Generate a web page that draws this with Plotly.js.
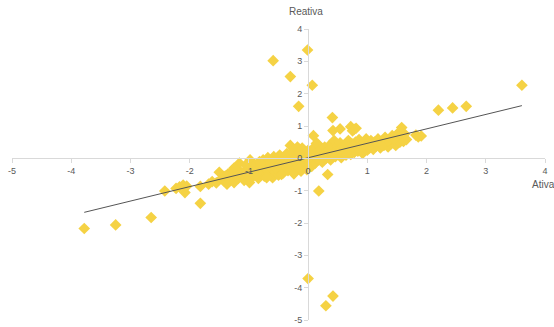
<!DOCTYPE html>
<html>
<head>
<meta charset="utf-8">
<script src="https://cdn.plot.ly/plotly-3.0.1.min.js"></script>
<style>html,body{margin:0;padding:0;background:#fff;}#chart{width:554px;height:327px;}</style>
</head>
<body>
<div id="chart"></div>
<script>
// Scatter points (Ativa, Reativa)
const ativa = [
 -3.78,-3.25,-2.65,-2.42,-2.23,-2.17,-2.11,-2.08,-2.05,-1.82,-1.82,-1.68,-1.62,-1.55,-1.50,-1.46,-1.42,-1.40,-1.37,-1.33,
 -1.30,-1.28,-1.25,-1.22,-1.18,-1.16,-1.14,-1.10,-1.08,-1.05,-1.02,-0.99,-0.98,-0.96,-0.94,-0.92,-0.90,-0.88,-0.86,-0.84,
 -0.82,-0.80,-0.78,-0.76,-0.74,-0.72,-0.70,-0.68,-0.66,-0.64,-0.62,-0.60,-0.59,-0.58,-0.56,-0.54,-0.52,-0.50,-0.48,-0.46,
 -0.44,-0.42,-0.40,-0.38,-0.36,-0.34,-0.32,-0.30,-0.30,-0.28,-0.26,-0.24,-0.22,-0.20,-0.18,-0.16,-0.16,-0.14,-0.12,-0.10,
 -0.08,-0.06,-0.04,-0.02,-0.01,0.00,0.00,0.02,0.04,0.06,0.07,0.08,0.09,0.10,0.12,0.14,0.14,0.16,0.18,0.18,
 0.20,0.22,0.24,0.26,0.28,0.30,0.30,0.32,0.33,0.34,0.36,0.38,0.40,0.41,0.42,0.42,0.42,0.44,0.46,0.48,
 0.50,0.52,0.54,0.54,0.56,0.58,0.60,0.62,0.64,0.66,0.68,0.70,0.72,0.72,0.74,0.75,0.76,0.78,0.78,0.80,
 0.81,0.82,0.84,0.86,0.88,0.90,0.92,0.94,0.96,0.98,1.00,1.02,1.04,1.06,1.08,1.10,1.12,1.15,1.18,1.20,
 1.22,1.25,1.28,1.30,1.32,1.35,1.38,1.40,1.42,1.45,1.48,1.50,1.52,1.55,1.58,1.60,1.61,1.63,1.66,1.82,
 1.86,1.91,2.20,2.44,2.67,3.61,
 -1.35,-1.20,-1.00,-0.85,-0.70,-0.65,-0.55,-0.45,-0.35,-0.25,-0.15,-0.05,0.05,0.15,0.25,0.35,0.45,0.55,0.65,0.75,
 0.85,0.95,1.05,1.15,1.25,1.35,1.45,-0.60,-0.80,-1.05,-1.25
];
const reativa = [
 -2.17,-2.06,-1.83,-1.01,-0.93,-0.88,-0.83,-1.06,-0.86,-0.87,-1.39,-0.80,-0.72,-0.76,-0.43,-0.62,-0.70,-0.55,-0.80,-0.66,
 -0.45,-0.58,-0.75,-0.52,-0.62,-0.15,-0.42,-0.55,-0.68,-0.35,-0.48,-0.75,-0.05,-0.30,-0.58,-0.42,-0.20,-0.50,-0.35,-0.62,
 -0.10,-0.28,-0.45,-0.05,-0.55,-0.22,-0.38,0.02,-0.48,-0.15,-0.30,-0.60,3.02,0.05,-0.42,-0.20,-0.08,-0.52,0.10,-0.32,
 -0.12,-0.45,0.00,-0.25,0.15,-0.38,-0.05,0.40,2.53,-0.18,0.22,-0.48,0.08,-0.30,0.35,-0.10,1.61,0.18,-0.40,0.32,
 0.02,-0.22,0.12,-0.35,3.35,0.25,-3.72,-0.08,0.10,-0.25,2.26,0.30,0.70,0.02,-0.15,0.18,0.46,0.45,-0.05,-1.01,
 0.08,0.28,-0.12,0.15,0.35,0.00,-4.56,0.22,-0.50,0.10,0.40,-0.05,0.30,1.26,0.12,0.86,-4.26,0.55,0.05,0.25,
 0.38,0.15,0.48,0.91,0.02,0.30,0.20,0.42,0.10,0.35,0.55,0.25,0.12,0.98,0.45,0.85,0.30,0.18,0.90,0.50,
 0.93,0.35,0.22,0.58,0.40,0.28,0.15,0.48,0.35,0.60,0.25,0.45,0.32,0.55,0.40,0.28,0.50,0.38,0.60,0.45,
 0.32,0.52,0.40,0.65,0.48,0.35,0.58,0.45,0.70,0.52,0.40,0.62,0.78,0.50,0.95,0.65,0.52,0.75,0.58,0.72,
 0.66,0.69,1.49,1.56,1.61,2.26,
 -0.48,-0.40,-0.60,-0.45,-0.60,-0.25,-0.30,-0.50,-0.15,-0.05,-0.30,-0.10,0.05,0.00,0.05,0.25,0.20,0.30,0.20,0.38,
 0.30,0.42,0.40,0.48,0.42,0.55,0.60,-0.10,-0.15,-0.20,-0.30
];
// Linear trendline endpoints
const trendX = [-3.78, 3.61];
const trendY = [-1.67, 1.63];
const tickVals = [-5,-4,-3,-2,-1,0,1,2,3,4];
const tickText = ["-5","-4","-3","-2","-1","0","1","2","3","4"];

const axisCommon = {
  range: [-5, 4],
  tickvals: tickVals,
  ticktext: tickText,
  showgrid: false,
  zeroline: false,
  showline: true,
  linecolor: '#d9d9d9',
  linewidth: 1,
  ticks: 'outside',
  ticklen: 4,
  tickcolor: '#d9d9d9',
  tickfont: {family: 'Liberation Sans, Arial, sans-serif', size: 9, color: '#595959'},
  anchor: 'free',
  position: 5/9,
  automargin: false,
  fixedrange: true
};

const data = [
  {
    x: ativa, y: reativa, type: 'scatter', mode: 'markers',
    marker: {symbol: 'diamond', size: 9, color: '#F5D244', line: {width: 0}},
    hoverinfo: 'none'
  },
  {
    x: trendX, y: trendY, type: 'scatter', mode: 'lines',
    line: {color: '#555555', width: 1},
    hoverinfo: 'none'
  }
];

const layout = {
  width: 554, height: 327,
  margin: {l: 12, r: 9, t: 29, b: 7, pad: 0},
  paper_bgcolor: '#ffffff', plot_bgcolor: '#ffffff',
  showlegend: false,
  xaxis: Object.assign({}, axisCommon, {side: 'bottom'}),
  yaxis: Object.assign({}, axisCommon, {side: 'left'}),
  annotations: [
    {text: 'Reativa', xref: 'x', x: 0, yref: 'paper', y: 1, yanchor: 'bottom', xanchor: 'center',
     xshift: -2, yshift: 10, showarrow: false, font: {family: 'Liberation Sans, Arial, sans-serif', size: 10, color: '#595959'}},
    {text: 'Ativa', xref: 'paper', x: 1, yref: 'y', y: 0, xanchor: 'center', yanchor: 'top',
     yshift: -19, xshift: -2, showarrow: false, font: {family: 'Liberation Sans, Arial, sans-serif', size: 10, color: '#595959'}}
  ]
};

Plotly.newPlot('chart', data, layout, {displayModeBar: false, staticPlot: true});
</script>
</body>
</html>
